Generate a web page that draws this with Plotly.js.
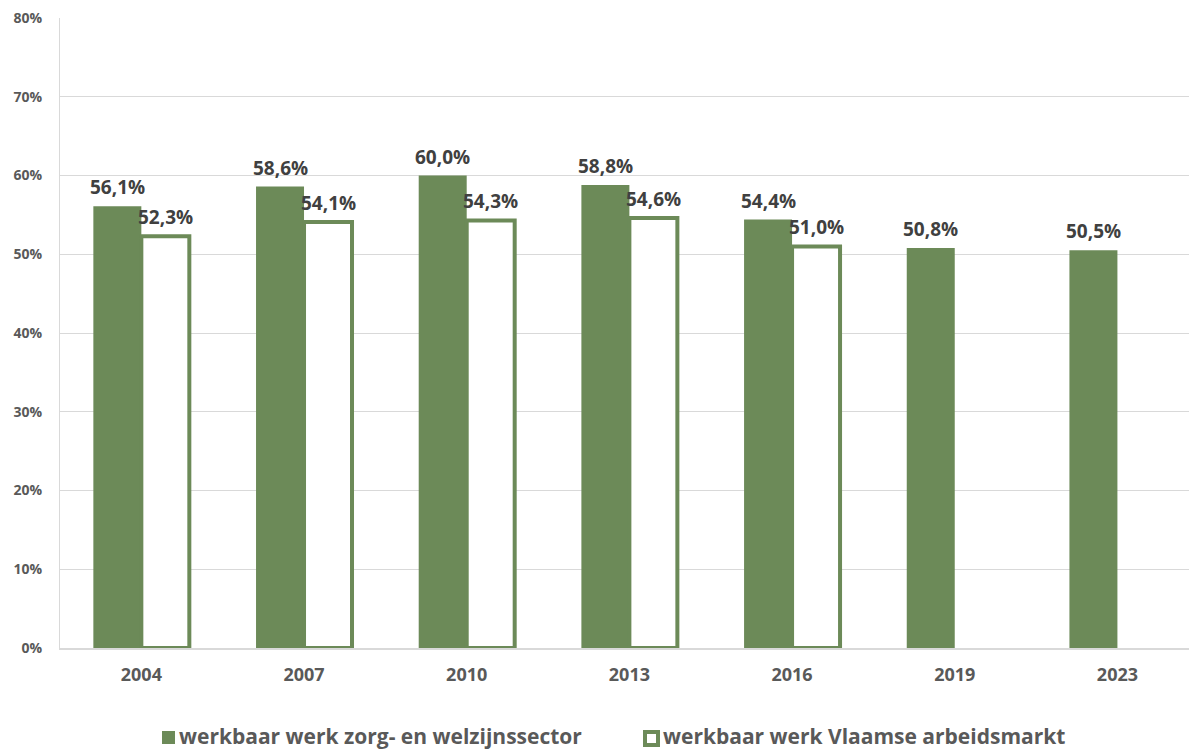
<!DOCTYPE html>
<html>
<head>
<meta charset="utf-8">
<script src="https://cdn.plot.ly/plotly-3.0.1.min.js"></script>
<style>html,body{margin:0;padding:0;background:#fff;}#chart{width:1189px;height:749px;}</style>
</head>
<body>
<div id="chart"></div>
<script>
const years = ['2004', '2007', '2010', '2013', '2016', '2019', '2023'];
const zorgWelzijn = [56.1, 58.6, 60.0, 58.8, 54.4, 50.8, 50.5];
const vlaamseArbeidsmarkt = [52.3, 54.1, 54.3, 54.6, 51.0, null, null];
const seriesNames = ['werkbaar werk zorg- en welzijnssector', 'werkbaar werk Vlaamse arbeidsmarkt'];
const yTicks = [0, 10, 20, 30, 40, 50, 60, 70, 80];

const W = 1189, H = 749;
const M = {l: 60, r: 0, t: 18, b: 101};
const xRange = [-0.5, 6.44];
const bargap = 0.41;
const green = '#6c8a58';
const fmt = v => v.toFixed(1).replace('.', ',') + '%';
const labelFont = {family: 'Open Sans', size: 19, color: '#404040', weight: 700};

const plotW = W - M.l - M.r, plotH = H - M.t - M.b;
const catPx = plotW / (xRange[1] - xRange[0]);
const barOffset = catPx * (1 - bargap) / 4;

const traces = [
  {
    type: 'bar', name: seriesNames[0], x: years, y: zorgWelzijn,
    marker: {color: green, line: {width: 0}},
    hoverinfo: 'skip', showlegend: false
  },
  {
    type: 'bar', name: seriesNames[1], x: years, y: vlaamseArbeidsmarkt,
    marker: {color: '#ffffff', line: {color: green, width: 4}},
    hoverinfo: 'skip', showlegend: false
  }
];

const annotations = [];
[zorgWelzijn, vlaamseArbeidsmarkt].forEach((series, si) => {
  series.forEach((v, i) => {
    if (v == null) return;
    annotations.push({
      x: i, y: v, xref: 'x', yref: 'y',
      xshift: si === 0 ? -barOffset : barOffset, yshift: 4,
      xanchor: 'center', yanchor: 'bottom', showarrow: false,
      text: fmt(v), font: labelFont
    });
  });
});

// custom legend (paper coords from pixels)
const px = p => (p - M.l) / plotW;
const py = p => (H - M.b - p) / plotH;
const legendFont = {family: 'Open Sans', size: 21, color: '#595959', weight: 700};
annotations.push({xref: 'paper', yref: 'paper', x: px(178), y: py(736), xanchor: 'left', yanchor: 'middle',
  showarrow: false, borderpad: 0, text: seriesNames[0], font: legendFont});
annotations.push({xref: 'paper', yref: 'paper', x: px(662), y: py(736), xanchor: 'left', yanchor: 'middle',
  showarrow: false, borderpad: 0, text: seriesNames[1], font: legendFont});
const shapes = [
  {type: 'rect', xref: 'paper', yref: 'paper', x0: px(162), x1: px(175), y0: py(744), y1: py(731),
   fillcolor: green, line: {width: 0}},
  {type: 'rect', xref: 'paper', yref: 'paper', x0: px(645), x1: px(658), y0: py(745), y1: py(732),
   fillcolor: '#ffffff', line: {color: green, width: 4}}
];

const layout = {
  width: W, height: H, margin: M,
  paper_bgcolor: '#fff', plot_bgcolor: '#fff',
  barmode: 'group', bargap: bargap, bargroupgap: 0,
  showlegend: false,
  annotations: annotations, shapes: shapes,
  xaxis: {
    type: 'category', range: xRange,
    tickfont: {family: 'Open Sans', size: 18, color: '#595959', weight: 700},
    showgrid: false, showline: true, linecolor: '#d9d9d9', linewidth: 1.5,
    ticks: '', ticklabelstandoff: 10
  },
  yaxis: {
    range: [0, 80], tickvals: yTicks, ticktext: yTicks.map(v => v + '%'),
    tickfont: {family: 'Open Sans', size: 14, color: '#595959', weight: 700},
    showgrid: true, gridcolor: '#d9d9d9', gridwidth: 1,
    zeroline: false, showline: true, linecolor: '#d9d9d9', linewidth: 1,
    ticks: '', ticklabelstandoff: 14
  },
  font: {family: 'Open Sans'}
};

Plotly.newPlot('chart', traces, layout, {displayModeBar: false, staticPlot: true});
</script>
</body>
</html>
